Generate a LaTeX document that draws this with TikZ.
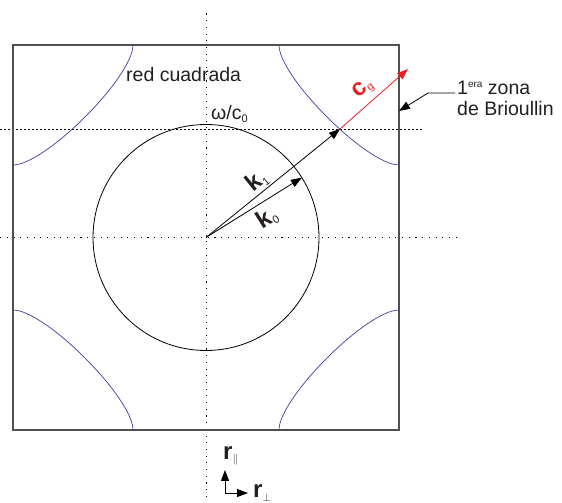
\documentclass[tikz,border=0pt]{standalone}
\usepackage{fontspec}
\setmainfont{Liberation Sans}
\usepackage{tikz}
\usetikzlibrary{arrows.meta, calc}
\definecolor{texto}{RGB}{35, 31, 32}
\definecolor{borde_gris}{RGB}{80, 80, 80}
\definecolor{curva_azul}{RGB}{60, 60, 165}
\definecolor{flecha_roja}{RGB}{235, 30, 35}
\newcommand{\indsub}[1]{\raisebox{-3pt}{\fontsize{11}{11}\selectfont #1}}
\newcommand{\indsup}[1]{\raisebox{7pt}{\fontsize{10}{10}\selectfont #1}}

\begin{document}
\begin{tikzpicture}[
        x=1pt, y=1pt,
        font=\fontsize{19.5}{22}\selectfont,
        every node/.style={inner sep=0pt, text=texto},
        vector/.style={-{Triangle[length=11pt, width=8pt]}, line width=0.8pt},
        puntos/.style={line width=0.9pt, dash pattern=on 1.1pt off 5.6pt},
        rayas/.style={line width=0.8pt, dash pattern=on 2.2pt off 1.8pt},
        curva/.style={curva_azul, line width=0.7pt},
        negrita/.style={font=\fontsize{24}{24}\selectfont\bfseries}
    ]
        \useasboundingbox (0, 0) rectangle (562, 503);

        % -------- Puntos de referencia --------
        % Centro de la zona y extremos de los vectores
        \coordinate (O) at (206, 265.5);
        \coordinate (P) at (340, 374);
        \coordinate (K0) at ($(O) + (32:113)$);
        \coordinate (G) at (408, 434);

        % -------- Ejes punteados --------
        \draw[puntos] (206, 6) -- (206, 493);
        \draw[puntos] (0, 265.5) -- (457, 265.5);
        \draw[rayas] (0, 374) -- (422, 374);

        % -------- 1era zona (cuadrado) --------
        \draw[borde_gris, line width=1.2pt] (13, 73) rectangle (399, 458);

        % -------- Curvas en las esquinas --------
        \draw[curva] (13, 338) .. controls (45, 338) and (133, 426) .. (133, 458);
        \draw[curva] (399, 338) .. controls (367, 338) and (279, 426) .. (279, 458);
        \draw[curva] (13, 193) .. controls (45, 193) and (133, 105) .. (133, 73);
        \draw[curva] (399, 193) .. controls (367, 193) and (279, 105) .. (279, 73);

        % -------- Circulo omega/c0 --------
        \draw[line width=0.8pt] (O) circle (113);

        % -------- Vectores --------
        \draw[vector] (O) -- (K0);
        \draw[vector] (O) -- (P);
        \draw[vector, flecha_roja] (P) -- (G);

        % -------- Textos --------
        \node[anchor=base west] (red) at (126, 421) {red cuadrada};
        \node[anchor=base west] (wc) at (211, 383) {ω/c\indsub{0}};
        \node[negrita, rotate=39] (k1lab) at (257, 322) {k\indsub{\mdseries 1}};
        \node[negrita, rotate=32] (k0lab) at (267, 285) {k\indsub{\mdseries 0}};
        \node[negrita, rotate=41, text=flecha_roja] (cglab) at (363, 414) {c\indsub{\mdseries g}};
        \node[anchor=base west] (zona1) at (457, 408) {1\indsup{era} zona};
        \node[anchor=base west] (zona2) at (457, 387) {de Brioullin};

        % Flecha a la zona
        \coordinate (zq) at (428, 410);
        \coordinate (zt) at (399, 392);
        \draw[-{Triangle[length=11pt, width=8pt]}, line width=0.8pt]
            ([xshift=-2pt, yshift=2pt]zona1.base west) -- (zq) -- (zt);

        % -------- Ejes r --------
        \coordinate (rO) at (225, 10);
        \coordinate (rA) at (225, 33);
        \coordinate (rB) at (248, 10);
        \draw[vector] (rO) -- (rA);
        \draw[vector] (rO) -- (rB);
        \node[negrita, anchor=base west] (rpar) at (223, 43) {r\indsub{$\|$}};
        \node[negrita, anchor=base west] (rperp) at (253, 5) {r\indsub{$\perp$}};

    \end{tikzpicture}
\end{document}
